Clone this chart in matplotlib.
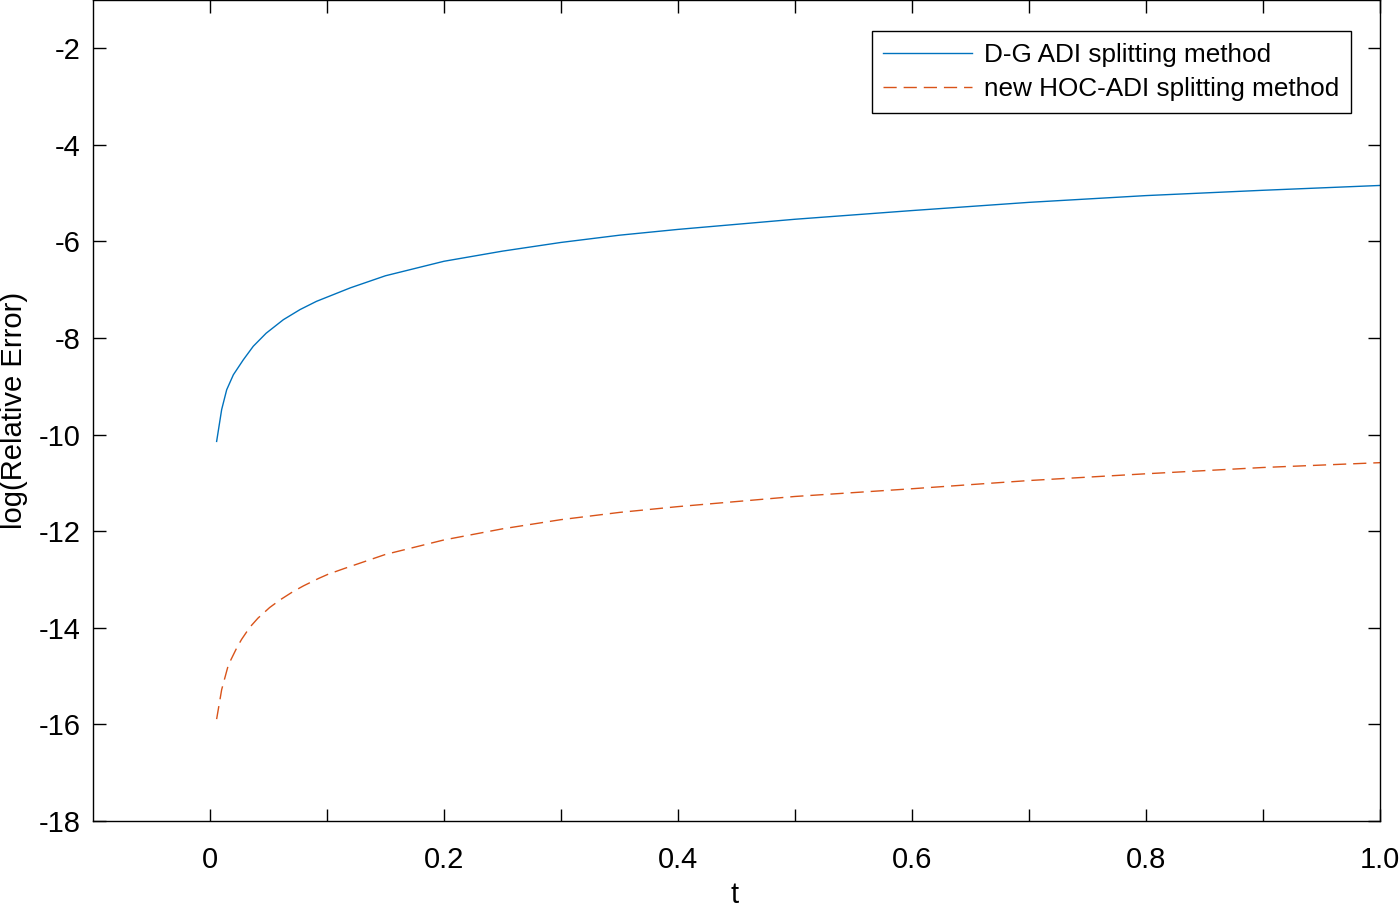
import matplotlib
matplotlib.use("Agg")
import matplotlib.pyplot as plt
import numpy as np

plt.rcParams["font.family"] = ["Liberation Sans", "DejaVu Sans"]
plt.rcParams["axes.unicode_minus"] = False
plt.rcParams["lines.scale_dashes"] = False

# values
t_dg = [0.0057, 0.010, 0.0143, 0.020, 0.0285, 0.037, 0.048, 0.0627, 0.077,
        0.091, 0.12, 0.15, 0.2, 0.25, 0.3, 0.35, 0.4, 0.5, 0.6, 0.7, 0.8, 0.9, 1.0]
err_dg = [-10.14, -9.48, -9.07, -8.76, -8.45, -8.17, -7.90, -7.62, -7.41,
          -7.24, -6.96, -6.71, -6.41, -6.20, -6.02, -5.87, -5.75, -5.54, -5.36,
          -5.19, -5.05, -4.94, -4.84]

t_hoc = [0.0057, 0.010, 0.0157, 0.0228, 0.027, 0.034, 0.041, 0.051, 0.060,
         0.071, 0.080, 0.0926, 0.101, 0.115, 0.15, 0.2, 0.25, 0.3, 0.35, 0.4,
         0.5, 0.6, 0.7, 0.8, 0.9, 1.0]
err_hoc = [-15.89, -15.28, -14.77, -14.42, -14.24, -13.99, -13.80, -13.58, -13.42,
           -13.25, -13.13, -12.98, -12.89, -12.77, -12.48, -12.18, -11.95, -11.76,
           -11.61, -11.49, -11.28, -11.12, -10.95, -10.81, -10.68, -10.58]

x_ticks = [0, 0.1, 0.2, 0.3, 0.4, 0.5, 0.6, 0.7, 0.8, 0.9, 1.0]
x_labels = ["0", "", "0.2", "", "0.4", "", "0.6", "", "0.8", "", "1.0"]
y_ticks = [-18, -16, -14, -12, -10, -8, -6, -4, -2]

fig = plt.figure(figsize=(14, 9.08), dpi=100)
ax = fig.add_axes([0.0664, 0.0958, 0.9193, 0.9042])

ax.plot(t_dg, err_dg, color="#0072BD", linewidth=1.0, label="D-G ADI splitting method")
ax.plot(t_hoc, err_hoc, color="#D95319", linewidth=1.0, dashes=(9.5, 5),
        label="new HOC-ADI splitting method")

ax.set_xlim(-0.1, 1.0)
ax.set_ylim(-18, -1)
ax.set_xticks(x_ticks)
ax.set_xticklabels(x_labels)
ax.set_yticks(y_ticks)
ax.tick_params(direction="in", length=9, width=1.0, top=True, right=True,
               labelsize=21)
ax.tick_params(axis="x", pad=18)
ax.tick_params(axis="y", pad=9)
for s in ax.spines.values():
    s.set_linewidth(1.0)

ax.set_xlabel("t", fontsize=21, va="baseline")
ax.xaxis.set_label_coords(0.4984, -0.0999)
ax.set_ylabel("log(Relative Error)", fontsize=21)
ax.yaxis.set_label_coords(-0.0505, 0.5)

leg = ax.legend(loc="upper right", bbox_to_anchor=(0.9775, 0.962), borderaxespad=0,
                fontsize=18.8, fancybox=False, framealpha=1, edgecolor="black",
                handlelength=3.4, handletextpad=0.45, borderpad=0.45, labelspacing=0.38)
leg.get_frame().set_linewidth(1.0)

fig.savefig("out.png", dpi=100)
